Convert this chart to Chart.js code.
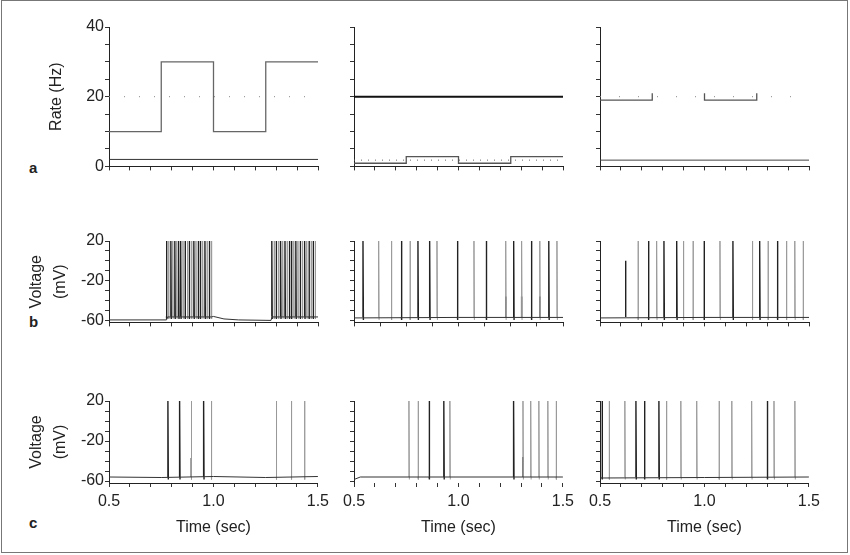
<!DOCTYPE html>
<html>
<head>
<meta charset="utf-8">
<script src="https://cdn.jsdelivr.net/npm/chart.js@4.4.1/dist/chart.umd.min.js"></script>
<style>
body { margin: 0; background: #fff; }
#fig { position: relative; width: 850px; height: 555px; font-family: "Liberation Sans", Arial, sans-serif; }
#fig canvas { position: absolute; }
.frame { position: absolute; left: 1px; top: 0; width: 845px; height: 551px; border: 1.5px solid #777; }
.lbl { position: absolute; font-weight: bold; font-size: 15px; line-height: 15px; color: #222; }
</style>
</head>
<body>
<div id="fig">
  <div class="frame"></div>
  <div class="lbl" style="left:29px;top:160px">a</div>
  <div class="lbl" style="left:29px;top:314px">b</div>
  <div class="lbl" style="left:29px;top:515px">c</div>
</div>
<script>
// axes
var xTicks = [0.5, 0.6, 0.7, 0.8, 0.9, 1.0, 1.1, 1.2, 1.3, 1.4, 1.5];
var xTicks8 = [0.5, 0.625, 0.75, 0.875, 1.0, 1.125, 1.25, 1.375, 1.5];
var xLabels = ['0.5', '1.0', '1.5'];
var rateTicks = [0, 5, 10, 15, 20, 25, 30, 35, 40];
var rateLabels = [0, 20, 40];
var vTicks = [-60, -50, -40, -30, -20, -10, 0, 10, 20];
var vLabels = [-60, -20, 20];

// row a: input rates (Hz)
var stepT = [0.5, 0.75, 1.0, 1.25, 1.5];
var rate1 = [10, 30, 10, 30, 30];
var rate1bg = 2;
var rate1ref = 20;
var rate2 = [0.9, 2.8, 0.9, 2.8, 2.8];
var rate2top = 20;
var rate2ref = 1.8;
var rate3T = [0.5, 0.75, 0.75, 0.75, 1.0, 1.0, 1.25, 1.25];
var rate3 = [19, 19, 21, null, 21, 19, 19, 21];
var rate3ref = 20;
var rate3bg = 1.8;

// row b: spike times (sec)
var b1Dark = [0.775, 0.796, 0.815, 0.833, 0.843, 0.864, 0.884, 0.906, 0.927, 0.937, 0.959, 0.980,
              1.279, 1.300, 1.321, 1.342, 1.363, 1.373, 1.394, 1.415, 1.436, 1.457, 1.477];
var b1Light = [0.785, 0.805, 0.824, 0.854, 0.875, 0.895, 0.916, 0.948, 0.969, 0.990,
               1.290, 1.311, 1.331, 1.352, 1.384, 1.404, 1.425, 1.446, 1.467, 1.487];
var b1Part = [];
var b1Rest = [[0.5, -59.5], [0.775, -59.5], [0.78, -56.5], [0.99, -56.5], [1.0, -56], [1.05, -58.5],
              [1.12, -59.5], [1.275, -60], [1.28, -56.5], [1.5, -56.5]];

var b2Dark = [0.543, 0.727, 0.806, 0.862, 0.995, 1.133, 1.264, 1.349, 1.432];
var b2Light = [0.618, 0.679, 0.768, 0.897, 1.074, 1.226, 1.302, 1.389, 1.471];
var b2Part = [[1.226, -36], [1.302, -36], [1.389, -36]];
var b2Rest = [[0.5, -57.5], [1.0, -57], [1.5, -57]];

var b3Dark = [0.732, 0.806, 0.867, 0.998, 1.136, 1.264, 1.349];
var b3Light = [0.682, 0.771, 0.899, 0.945, 1.074, 1.229, 1.304, 1.392, 1.432, 1.472];
var b3Part = [[0.623, 0]];
var b3Rest = [[0.5, -57.5], [1.0, -57], [1.5, -57]];

// row c: spike times (sec)
var c1Dark = [0.782, 0.838, 0.953];
var c1Light = [0.894, 0.990, 1.301, 1.373, 1.436];
var c1Part = [[0.894, -37]];
var c1Rest = [[0.5, -56], [0.75, -56.5], [1.0, -55.5], [1.25, -56.5], [1.5, -55.5]];

var c2Dark = [0.860, 0.930, 1.264];
var c2Light = [0.763, 0.807, 0.959, 1.309, 1.346, 1.385, 1.428, 1.468];
var c2Part = [[1.309, -36]];
var c2Rest = [[0.5, -58.5], [0.53, -56], [1.5, -56]];

var c3Dark = [0.510, 0.672, 0.713, 0.782, 1.301];
var c3Light = [0.544, 0.619, 0.818, 0.887, 0.963, 1.070, 1.131, 1.226, 1.333, 1.433];
var c3Part = [];
var c3Rest = [[0.5, -57], [1.0, -56.5], [1.5, -56]];

Chart.defaults.font.family = "'Liberation Sans', Arial, sans-serif";
Chart.defaults.color = '#222';

var fig = document.getElementById('fig');
var colL = [109, 354, 600];
var rowT = [27, 241, 401];
var rowH = [140, 82, 82];

function pts(xs, ys) {
    var out = [];
    for (var i = 0; i < xs.length; i++) out.push({x: xs[i], y: ys[i]});
    return out;
}
function flat(v) {
    return [{x: 0.5, y: v}, {x: 1.5, y: v}];
}
function line(data, color, width, dash, stepped) {
    return {data: data, borderColor: color, borderWidth: width || 1, borderDash: dash || [],
            stepped: stepped || false, pointRadius: 0, fill: false};
}
function spikes(times, color, width, base, dip) {
    var d = [];
    times.forEach(function (t) {
        d.push({x: t, y: base}, {x: t, y: 20}, {x: t + 0.002, y: dip}, {x: t + 0.002, y: null});
    });
    return line(d, color, width);
}
function partial(list, color, base) {
    var d = [];
    list.forEach(function (p) {
        d.push({x: p[0], y: base}, {x: p[0], y: p[1]}, {x: p[0], y: null});
    });
    return line(d, color, 1.4);
}
function voltage(dark, light, part, rest, base, dip) {
    return [
        line(rest.map(function (r) { return {x: r[0], y: r[1]}; }), '#333', 1),
        spikes(light, '#9a9a9a', 1, base, dip),
        spikes(dark, '#222', 1.4, base, dip),
        partial(part, '#222', base)
    ];
}

function panel(col, row, datasets, xt, noXBorder) {
    var yw = col == 0 ? 99 : 24;
    var xh = row == 2 ? 62 : 10;
    var H = rowH[row];
    var cv = document.createElement('canvas');
    cv.width = yw + 209 + 16;
    cv.height = 14 + H + xh;
    cv.style.left = (colL[col] - yw) + 'px';
    cv.style.top = (rowT[row] - 14) + 'px';
    fig.appendChild(cv);

    var yt = row == 0 ? rateTicks : vTicks;
    var yl = row == 0 ? rateLabels : vLabels;
    var ytitle = row == 0
        ? {display: col == 0, text: 'Rate (Hz)', color: '#222', font: {size: 16}, padding: {top: 37, bottom: 0}}
        : {display: col == 0, text: ['Voltage', '(mV)'], color: '#222', font: {size: 16, lineHeight: 1.5}, padding: {top: 15, bottom: 0}};

    new Chart(cv, {
        type: 'line',
        data: {datasets: datasets},
        options: {
            responsive: false,
            animation: false,
            devicePixelRatio: 1,
            layout: {padding: {top: 14, right: 16, left: 0, bottom: 0}},
            plugins: {legend: {display: false}, tooltip: {enabled: false}},
            elements: {point: {radius: 0}, line: {tension: 0}},
            scales: {
                x: {
                    type: 'linear', min: 0.5, max: 1.5,
                    afterBuildTicks: function (s) { s.ticks = xt.map(function (v) { return {value: v}; }); },
                    afterFit: function (s) { s.height = xh; },
                    ticks: {
                        autoSkip: false, maxRotation: 0, padding: 5, font: {size: 16}, color: '#222',
                        callback: function (v) {
                            if (row != 2) return '';
                            var s = Number(v).toFixed(1);
                            return xLabels.indexOf(s) >= 0 && Math.abs(v - parseFloat(s)) < 1e-6 ? s : '';
                        }
                    },
                    grid: {drawOnChartArea: false, tickLength: 4, color: '#333'},
                    border: {display: !noXBorder, color: '#222', width: 1},
                    title: {display: row == 2, text: 'Time (sec)', color: '#222', font: {size: 16}, padding: {top: 0, bottom: 8}}
                },
                y: {
                    min: row == 0 ? 0 : -62, max: row == 0 ? 40 : 20,
                    afterBuildTicks: function (s) { s.ticks = yt.map(function (v) { return {value: v}; }); },
                    afterFit: function (s) { s.width = yw; },
                    ticks: {
                        autoSkip: false, padding: 1, font: {size: 16}, color: '#222',
                        callback: function (v) { return col == 0 && yl.indexOf(v) >= 0 ? String(v) : ''; }
                    },
                    grid: {drawOnChartArea: false, tickLength: 4, color: '#333'},
                    border: {color: '#222', width: 1},
                    title: ytitle
                }
            }
        }
    });
}

// row a
panel(0, 0, [
    line(flat(rate1ref), '#888', 1, [1, 14]),
    line(flat(rate1bg), '#333', 1),
    line(pts(stepT, rate1), '#666', 1.3, [], true)
], xTicks);
panel(1, 0, [
    line(flat(rate2ref), '#666', 1, [1, 6]),
    line(flat(rate2top), '#111', 2),
    line(pts(stepT, rate2), '#555', 1.3, [], true)
], xTicks);
panel(2, 0, [
    line(flat(rate3ref), '#888', 1, [1, 18]),
    line(flat(rate3bg), '#444', 1),
    line(pts(rate3T, rate3), '#555', 1.3)
], xTicks);

// row b
panel(0, 1, voltage(b1Dark, b1Light, b1Part, b1Rest, -56, -58.5), xTicks);
panel(1, 1, voltage(b2Dark, b2Light, b2Part, b2Rest, -56.5, -59.5), xTicks8);
panel(2, 1, voltage(b3Dark, b3Light, b3Part, b3Rest, -56.5, -59.5), xTicks);

// row c
panel(0, 2, voltage(c1Dark, c1Light, c1Part, c1Rest, -56, -58.5), xTicks);
panel(1, 2, voltage(c2Dark, c2Light, c2Part, c2Rest, -56, -58.5), xTicks, true);
panel(2, 2, voltage(c3Dark, c3Light, c3Part, c3Rest, -56, -58.5), xTicks);
</script>
</body>
</html>
